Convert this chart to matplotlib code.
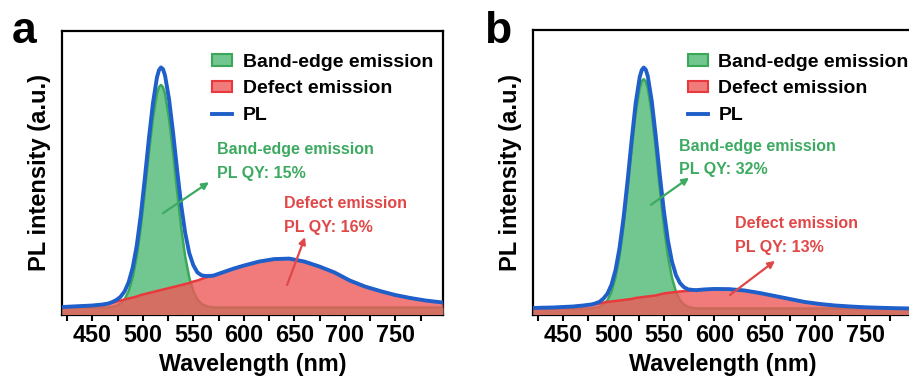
import matplotlib
matplotlib.use("Agg")
import matplotlib.pyplot as plt
import numpy as np
from matplotlib.patches import Patch
from matplotlib.lines import Line2D

plt.rcParams['font.family'] = ['Liberation Sans', 'DejaVu Sans']
plt.rcParams['font.weight'] = 'bold'

# ---------------- Panel a data ----------------
wl_a = [420, 430, 440, 450, 460, 466, 470, 474, 478, 482, 486, 490, 494, 498, 502, 506,
        510, 514, 516, 518, 520, 522, 526, 530, 534, 538, 542, 546, 550, 554, 558, 562,
        566, 570, 580, 590, 600, 615, 630, 645, 660, 675, 690, 705, 720, 735, 750, 765,
        780, 797]
band_a = [7, 7, 7, 7, 7, 7, 7.6, 8.6, 10.8, 15.2, 23.4, 37, 58, 87, 123, 161.5,
          196, 221, 227.8, 230, 227.8, 221, 196, 161.5, 123, 87, 58, 37, 23.4, 15.2, 10.8, 8.6,
          7.6, 7, 7, 7, 7, 7, 7, 7, 7, 7, 7, 7, 7, 7, 7, 7,
          7, 7]
defect_a = [7.5, 8, 8.5, 9, 10, 11, 12, 13, 14, 15, 16, 17, 18, 19.5, 20.5, 21.5,
            22.5, 23.5, 24, 24.5, 25, 25.5, 26.5, 27.5, 28.5, 29.5, 30.5, 31.5, 33, 34, 35.5, 37,
            38, 39, 42.5, 46, 49, 53, 55.5, 56, 53, 48, 42, 34, 28, 23.5, 19.5, 16.5,
            14, 12]
background_a = 7

# ---------------- Panel b data ----------------
wl_b = [420, 430, 440, 450, 460, 470, 478, 482, 486, 490, 494, 498, 502, 506, 510, 514,
        518, 522, 526, 528, 530, 532, 534, 538, 542, 546, 550, 554, 558, 562, 566, 570,
        574, 578, 582, 590, 600, 615, 630, 645, 660, 675, 690, 705, 720, 735, 750, 765,
        780, 797]
band_b = [6, 6, 6, 6, 6, 6, 6, 6.6, 7.6, 9.9, 14.4, 22.8, 37, 58.6, 88.5, 125,
          164.6, 200.5, 226, 232.7, 235, 232.7, 226, 200.5, 164.6, 125, 88.5, 58.6, 37, 22.8, 14.4, 9.9,
          7.6, 6.6, 6, 6, 6, 6, 6, 6, 6, 6, 6, 6, 6, 6, 6, 6,
          6, 6]
defect_b = [6.5, 6.8, 7, 7.5, 8, 9, 10, 10.5, 11, 12, 12.5, 13, 13.5, 14, 14.5, 15,
            15.5, 16.5, 17, 17.3, 17.5, 17.8, 18, 18.5, 19, 20, 21, 21.5, 22, 22.5, 23, 23.3,
            23.5, 24, 24.3, 25, 25.5, 25.3, 24, 21.5, 18.5, 15.5, 12.5, 10.5, 9, 8, 7.2, 6.7,
            6.3, 6]
background_b = 6

labels = ["Band-edge emission", "Defect emission", "PL"]
panel_letters = ["a", "b"]
qy_band = ["PL QY: 15%", "PL QY: 32%"]
qy_defect = ["PL QY: 16%", "PL QY: 13%"]
xticks = [450, 500, 550, 600, 650, 700, 750]

GREEN_FILL = '#72c690'
GREEN_EDGE = '#3aa858'
RED_FILL = '#ee5a5a'
RED_EDGE = '#e83a3c'
BLUE = '#1f5fc9'
GREEN_TXT = '#3daa62'
RED_TXT = '#e04848'

fig = plt.figure(figsize=(9.09, 3.81), dpi=100)
W, H = 909, 381
ax_a = fig.add_axes([62 / W, (381 - 314.5) / H, 380.8 / W, 283.5 / H])
ax_b = fig.add_axes([533 / W, (381 - 314.5) / H, 379.5 / W, 284.5 / H])

panels = [
    (ax_a, wl_a, band_a, defect_a, background_a, (0.394, 0.92),
     dict(gx=573.5, gy=(165.5, 141.5), gt=(520, 101.5), gh=(565.5, 132.5),
          rx=640, ry=(111.5, 87.5), rt=(642.8, 29.5), rh=(660.6, 77.5))),
    (ax_b, wl_b, band_b, defect_b, background_b, (0.408, 0.917),
     dict(gx=565, gy=(167.5, 144.5), gt=(537.2, 109.5), gh=(575, 136.5),
          rx=620.7, ry=(90.5, 66.5), rt=(615.7, 19.5), rh=(660.4, 53.5))),
]

for i, (ax, wl, band, defect, bg, leg_anchor, ann) in enumerate(panels):
    wl = np.array(wl, float)
    band = np.array(band, float)
    defect = np.array(defect, float)
    pl = band + defect - bg

    ax.fill_between(wl, 0, band, color=GREEN_FILL, lw=0, zorder=3)
    ax.plot(wl, band, color=GREEN_EDGE, lw=1.8, zorder=3.1)
    ax.fill_between(wl, 0, defect, color=RED_FILL, alpha=0.8, lw=0, zorder=3.2)
    ax.plot(wl, defect, color=RED_EDGE, lw=1.8, zorder=3.3)
    ax.plot(wl, pl, color=BLUE, lw=2.8, zorder=4, solid_joinstyle='round',
            solid_capstyle='round')

    ax.set_xlim(420, 797)
    ax.set_ylim(0, 284)
    ax.set_yticks([])
    ax.set_xticks(xticks)
    ax.set_xticks(np.arange(425, 800, 50), minor=True)
    ax.tick_params(axis='x', which='both', direction='out', length=4, width=1.5,
                   labelsize=16.8, pad=3)
    for lab in ax.get_xticklabels():
        lab.set_fontweight('bold')
    for sp in ax.spines.values():
        sp.set_linewidth(1.6)
        sp.set_color('black')
    ax.set_xlabel("Wavelength (nm)", fontsize=16.8, fontweight='bold', labelpad=4)
    ax.set_ylabel("PL intensity (a.u.)", fontsize=17, fontweight='bold', labelpad=8)

    handles = [Patch(facecolor=GREEN_FILL, edgecolor=GREEN_EDGE, lw=1.5),
               Patch(facecolor='#f17a7a', edgecolor=RED_EDGE, lw=1.5),
               Line2D([0], [0], color=BLUE, lw=2.8)]
    leg = ax.legend(handles, labels, loc='upper left', bbox_to_anchor=leg_anchor,
                    frameon=False, prop={'size': 14, 'weight': 'bold'},
                    handlelength=1.05, handleheight=0.55, handletextpad=0.52,
                    labelspacing=0.5, borderaxespad=0, borderpad=0)
    leg.set_zorder(5)

    # annotations
    ax.text(ann['gx'], ann['gy'][0], "Band-edge emission", color=GREEN_TXT,
            fontsize=11.5, fontweight='bold', va='center', ha='left', zorder=6)
    ax.text(ann['gx'], ann['gy'][1], qy_band[i], color=GREEN_TXT,
            fontsize=11.5, fontweight='bold', va='center', ha='left', zorder=6)
    ax.annotate("", xy=ann['gh'], xytext=ann['gt'],
                arrowprops=dict(arrowstyle='-|>', color=GREEN_TXT, lw=1.6,
                                mutation_scale=10, shrinkA=0, shrinkB=0), zorder=6)
    ax.text(ann['rx'], ann['ry'][0], "Defect emission", color=RED_TXT,
            fontsize=11.5, fontweight='bold', va='center', ha='left', zorder=6)
    ax.text(ann['rx'], ann['ry'][1], qy_defect[i], color=RED_TXT,
            fontsize=11.5, fontweight='bold', va='center', ha='left', zorder=6)
    ax.annotate("", xy=ann['rh'], xytext=ann['rt'],
                arrowprops=dict(arrowstyle='-|>', color=RED_TXT, lw=1.6,
                                mutation_scale=10, shrinkA=0, shrinkB=0), zorder=6)

fig.text(12 / W, 1 - 43 / H, panel_letters[0], fontsize=32, fontweight='bold',
         ha='left', va='baseline')
fig.text(484 / W, 1 - 43 / H, panel_letters[1], fontsize=32, fontweight='bold',
         ha='left', va='baseline')

fig.savefig("out.png", dpi=100)
